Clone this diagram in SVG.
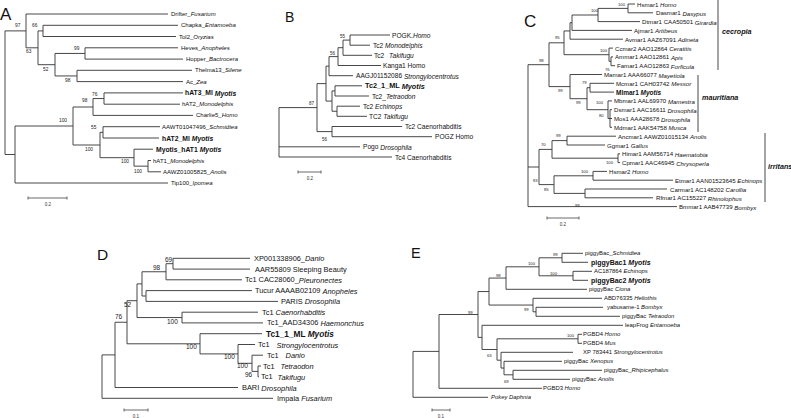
<svg xmlns="http://www.w3.org/2000/svg" width="791" height="418" viewBox="0 0 791 418">
<style>
.br{fill:none;stroke:#333;stroke-width:0.9}
.sb{fill:none;stroke:#444;stroke-width:0.8}
text{font-family:"Liberation Sans",Arial,sans-serif;fill:#111}
.lf{dominant-baseline:central}
.i{font-style:italic}
.b{font-weight:bold}
.ttl{font-size:16px}
.fa{font-size:6px}.fab{font-size:6.8px;font-weight:bold}
.fb{font-size:6.6px}.fbb{font-size:7.3px;font-weight:bold}
.fc{font-size:6.1px}.fcb{font-size:6.5px;font-weight:bold}
.fd{font-size:7.4px}.fdb{font-size:8.3px;font-weight:bold}
.fe{font-size:5.9px}.feb{font-size:7px;font-weight:bold}
.bsa{font-size:4.8px;fill:#222}.bsb{font-size:4.5px;fill:#222}.bsc{font-size:4.2px;fill:#222}.bsd{font-size:6.5px;fill:#222}
.sc{font-size:4.5px;fill:#333;text-anchor:middle}
.cl{font-size:7.2px;font-weight:bold;font-style:italic}
</style>

<!-- ============ PANEL A ============ -->
<g id="panelA">
<text class="ttl" x="0" y="20" style="font-size:17px">A</text>
<g id="A-connectors">
<path class="br" d="M5 30.9V154.5 M26 14V47.8 M38 30.9V64.7 M43 25.3V36.5 M55 53.45V75.95 M85 47.8V59.1 M77 70.3V81.6 M15 126V183 M73 107V145 M93 98.55V115.4 M104 92.9V104.2 M100 132.35V157.68 M103 126.7V138 M134 149.2V166.15 M148 160.5V171.8
M5 30.9H26 M5 154.5H15 M26 14H168 M26 47.8H38 M38 30.9H43 M38 64.7H55 M43 25.3H178 M43 36.5H176 M55 53.45H85 M55 75.95H77 M85 47.8H178 M85 59.1H183 M77 70.3H192 M77 81.6H183 M15 126H73 M15 183H168 M73 107H93 M73 145H100 M93 98.55H104 M93 115.4H193 M104 92.9H183 M104 104.2H180 M100 132.35H103 M100 157.68H134 M103 126.7H160 M103 138H159 M134 149.2H153 M134 166.15H148 M148 160.5H151 M148 171.8H161"/>
<path class="sb" d="M28 198H67 M28 196.5V199.5 M67 196.5V199.5"/>
</g>
<g id="A-support">
<text class="bsa" x="15" y="27">97</text><text class="bsa" x="32" y="27">66</text><text class="bsa" x="26" y="53">63</text><text class="bsa" x="74" y="50">99</text><text class="bsa" x="43" y="71">52</text><text class="bsa" x="65" y="82">98</text><text class="bsa" x="92" y="96">76</text><text class="bsa" x="82" y="102">98</text><text class="bsa" x="59" y="122">100</text><text class="bsa" x="91" y="129">55</text><text class="bsa" x="85" y="151">100</text><text class="bsa" x="121" y="163">100</text><text class="bsa" x="134" y="173">100</text>
<text class="sc" x="48" y="206">0.2</text>
</g>
<g id="a1"><text class="lf fa" x="171" y="14">Drifter_<tspan class="i">Fusarium</tspan></text></g>
<g id="a2"><text class="lf fa" x="181" y="25.3">Chapka_<tspan class="i">Entamoeba</tspan></text></g>
<g id="a3"><text class="lf fa" x="179" y="36.5">Tol2_<tspan class="i">Oryzias</tspan></text></g>
<g id="a4"><text class="lf fa" x="181" y="47.8">Heves_<tspan class="i">Anopheles</tspan></text></g>
<g id="a5"><text class="lf fa" x="186" y="59.1">Hopper_<tspan class="i">Bactrocera</tspan></text></g>
<g id="a6"><text class="lf fa" x="195" y="70.3">Thelma13_<tspan class="i">Silene</tspan></text></g>
<g id="a7"><text class="lf fa" x="186" y="81.6">Ac_<tspan class="i">Zea</tspan></text></g>
<g id="a8"><text class="lf fab" x="185" y="92.9">hAT3_Ml <tspan class="i">Myotis</tspan></text></g>
<g id="a9"><text class="lf fa" x="182" y="104.2">hAT2_<tspan class="i">Monodelphis</tspan></text></g>
<g id="a10"><text class="lf fa" x="196" y="115.4">Charlie5_<tspan class="i">Homo</tspan></text></g>
<g id="a11"><text class="lf fa" x="162" y="126.7">AAWT01047496_<tspan class="i">Schmidtea</tspan></text></g>
<g id="a12"><text class="lf fab" x="162" y="138">hAT2_Ml <tspan class="i">Myotis</tspan></text></g>
<g id="a13"><text class="lf fab" x="156" y="149.2">Myotis_hAT1 <tspan class="i">Myotis</tspan></text></g>
<g id="a14"><text class="lf fa" x="153" y="160.5">hAT1_<tspan class="i">Monodelphis</tspan></text></g>
<g id="a15"><text class="lf fa" x="163" y="171.8">AAWZ01005825_<tspan class="i">Anolis</tspan></text></g>
<g id="a16"><text class="lf fa" x="171" y="183">Tip100_<tspan class="i">Ipomea</tspan></text></g>
</g>

<!-- ============ PANEL B ============ -->
<g id="panelB">
<text class="ttl" x="285" y="22" style="font-size:14px">B</text>
<g id="B-connectors">
<path class="br" d="M279 107.6V157 M317 83.6V131.6 M326 66.15V101.08 M329 56.6V75.7 M338 47.7V65.5 M343 40.1V55.3 M350 35V45.2 M332 90.9V111.25 M335 85.8V96 M337 106.2V116.3 M332 126.5V136.7
M279 107.6H317 M279 146.8H360 M279 157H392 M317 83.6H326 M317 131.6H332 M326 66.15H329 M326 101.08H332 M329 56.6H338 M329 75.7H353 M338 47.7H343 M338 65.5H381 M343 40.1H350 M343 55.3H372 M350 35H390 M350 45.2H370 M332 90.9H335 M332 111.25H337 M335 85.8H362 M335 96H369 M337 106.2H360 M337 116.3H367 M332 126.5H402 M332 136.7H432"/>
<path class="sb" d="M298 172H321 M298 170.5V173.5 M321 170.5V173.5"/>
</g>
<g id="B-support">
<text class="bsb" x="340" y="38">55</text><text class="bsb" x="330" y="55">56</text><text class="bsb" x="309" y="105">87</text><text class="bsb" x="322" y="141">56</text>
<text class="sc" x="310" y="180">0.2</text>
</g>
<g id="b1"><text class="lf fb" x="392" y="35">POGK.<tspan class="i">Homo</tspan></text></g>
<g id="b2"><text class="lf fb" x="373" y="45.2">Tc2 <tspan class="i">Monodelphis</tspan></text></g>
<g id="b3"><text class="lf fb" x="374" y="55.3">Tc2 <tspan class="i" dx="3">Takifugu</tspan></text></g>
<g id="b4"><text class="lf fb" x="383" y="65.5">Kanga1 Homo</text></g>
<g id="b5"><text class="lf fb" x="356" y="75.7">AAGJ01152086 <tspan class="i">Strongylocentrotus</tspan></text></g>
<g id="b6"><text class="lf fbb" x="365" y="85.8">Tc2_1_ML <tspan class="i">Myotis</tspan></text></g>
<g id="b7"><text class="lf fb" x="372" y="96">Tc2_<tspan class="i">Tetraodon</tspan></text></g>
<g id="b8"><text class="lf fb" x="363" y="106.2">Tc2 <tspan class="i">Echinops</tspan></text></g>
<g id="b9"><text class="lf fb" x="369" y="116.3">TC2 <tspan class="i">Takifugu</tspan></text></g>
<g id="b10"><text class="lf fb" x="405" y="126.5">Tc2 Caenorhabditis</text></g>
<g id="b11"><text class="lf fb" x="435" y="136.7">POGZ Homo</text></g>
<g id="b12"><text class="lf fb" x="363" y="146.8">Pogo <tspan class="i">Drosophila</tspan></text></g>
<g id="b13"><text class="lf fb" x="395" y="157">Tc4 Caenorhabditis</text></g>
</g>

<!-- ============ PANEL C ============ -->
<g id="panelC">
<text class="ttl" x="524" y="27" style="font-size:17px">C</text>
<g id="C-connectors">
<path class="br" d="M528 64.7V206.6 M549 42.8V86.6 M564 30.95V54.7 M570 22.7V39.2 M572 15V30.4 M598 8.4V21.6 M628 4V12.8 M609 48.1V61.3 M611 56.9V65.7 M570 74.5V98.7 M587 87.7V109.7 M590 83.3V92.1 M608 100.9V118.5 M610 109.7V127.3 M539 149.4V184.6 M552 140.6V158.2 M567 136.2V145 M618 153.8V162.6 M554 175.8V193.4 M593 171.4V180.2 M585 189V197.8
M528 64.7H549 M528 167H539 M528 206.6H677 M549 42.8H564 M549 86.6H570 M564 30.95H570 M564 54.7H609 M570 22.7H572 M570 39.2H623 M572 15H598 M572 30.4H632 M598 8.4H628 M598 21.6H640 M628 4H635 M628 12.8H653 M609 48.1H613 M609 61.3H611 M611 56.9H613 M611 65.7H615 M570 74.5H602 M570 98.7H587 M587 87.7H590 M587 109.7H608 M590 83.3H614 M590 92.1H614 M608 100.9H612 M608 118.5H610 M610 109.7H612 M610 118.5H612 M610 127.3H612 M539 149.4H552 M539 184.6H554 M552 140.6H567 M552 158.2H618 M567 136.2H616 M567 145H605 M618 153.8H620 M618 162.6H620 M554 175.8H593 M554 193.4H585 M593 171.4H607 M593 180.2H673 M585 189H667 M585 197.8H653"/>
<path class="sb" d="M547 218H579 M547 216.5V219.5 M579 216.5V219.5"/>
</g>
<g id="C-clades">
<path class="br" d="M718 0V70 M698 75V132 M765 133V202"/>
<text class="cl" x="722" y="34">cecropia</text>
<text class="cl" x="702" y="100">mauritiana</text>
<text class="cl" x="768" y="169">irritans</text>
</g>
<g id="C-support">
<text class="bsc" x="618" y="6">100</text><text class="bsc" x="591" y="12">100</text><text class="bsc" x="555" y="39">95</text><text class="bsc" x="600" y="52">100</text><text class="bsc" x="605" y="70.6">76</text><text class="bsc" x="539" y="62">98</text><text class="bsc" x="582" y="84">79</text><text class="bsc" x="558" y="92">99</text><text class="bsc" x="576" y="104">99</text><text class="bsc" x="596" y="104">100</text><text class="bsc" x="599" y="117">80</text><text class="bsc" x="556" y="137">99</text><text class="bsc" x="541" y="146">70</text><text class="bsc" x="606" y="164">100</text><text class="bsc" x="581" y="173">100</text><text class="bsc" x="533" y="182">83</text><text class="bsc" x="544" y="191">85</text><text class="bsc" x="575" y="207">99</text>
<text class="sc" x="563" y="226">0.2</text>
</g>
<g id="c1"><text class="lf fc" x="637" y="4">Hsmar1 <tspan class="i">Homo</tspan></text></g>
<g id="c2"><text class="lf fc" x="656" y="12.8">Dasmar1 <tspan class="i">Dasypus</tspan></text></g>
<g id="c3"><text class="lf fc" x="642" y="21.6">Dtmar1 CAA50501 <tspan class="i">Girardia</tspan></text></g>
<g id="c4"><text class="lf fc" x="634" y="30.4">Ajmar1 <tspan class="i">Artibeus</tspan></text></g>
<g id="c5"><text class="lf fc" x="625" y="39.2">Avmar1 AAZ67091 <tspan class="i">Adineta</tspan></text></g>
<g id="c6"><text class="lf fc" x="615" y="48.1">Ccmar2 AAO12864 <tspan class="i">Ceratitis</tspan></text></g>
<g id="c7"><text class="lf fc" x="615" y="56.9">Ammar1 AAO12861 <tspan class="i">Apis</tspan></text></g>
<g id="c8"><text class="lf fc" x="617" y="65.7">Famar1 AAO12863 <tspan class="i">Forficula</tspan></text></g>
<g id="c9"><text class="lf fc" x="604" y="74.5">Mamar1 AAA66077 <tspan class="i">Mayetiola</tspan></text></g>
<g id="c10"><text class="lf fc" x="616" y="83.3">Mcmar1 CAH03742 <tspan class="i">Messor</tspan></text></g>
<g id="c11"><text class="lf fcb" x="616" y="92.1">Mlmar1 <tspan class="i">Myotis</tspan></text></g>
<g id="c12"><text class="lf fc" x="614" y="100.9">Mbmar1 AAL69970 <tspan class="i">Mamestra</tspan></text></g>
<g id="c13"><text class="lf fc" x="614" y="109.7">Dsmar1 AAC16611 <tspan class="i">Drosophila</tspan></text></g>
<g id="c14"><text class="lf fc" x="614" y="118.5">Mos1 AAA28678 <tspan class="i">Drosophila</tspan></text></g>
<g id="c15"><text class="lf fc" x="614" y="127.3">Mdmar1 AAK54758 <tspan class="i">Musca</tspan></text></g>
<g id="c16"><text class="lf fc" x="618" y="136.2">Ancmar1 AAWZ01015134 <tspan class="i">Anolis</tspan></text></g>
<g id="c17"><text class="lf fc" x="607" y="145">Ggmar1 <tspan class="i">Gallus</tspan></text></g>
<g id="c18"><text class="lf fc" x="622" y="153.8">Himar1 AAM56714 <tspan class="i">Haematobia</tspan></text></g>
<g id="c19"><text class="lf fc" x="622" y="162.6">Cpmar1 AAC46945 <tspan class="i">Chrysoperla</tspan></text></g>
<g id="c20"><text class="lf fc" x="609" y="171.4">Hsmar2 <tspan class="i">Homo</tspan></text></g>
<g id="c21"><text class="lf fc" x="675" y="180.2">Etmar1 AAN01523645 <tspan class="i">Echinops</tspan></text></g>
<g id="c22"><text class="lf fc" x="670" y="189">Carmar1 AC148202 <tspan class="i">Carollia</tspan></text></g>
<g id="c23"><text class="lf fc" x="656" y="197.8">Rfmar1 AC155227 <tspan class="i">Rhinolophus</tspan></text></g>
<g id="c24"><text class="lf fc" x="679" y="206.6">Bmmar1 AAB47739 <tspan class="i">Bombyx</tspan></text></g>
</g>

<!-- ============ PANEL D ============ -->
<g id="panelD">
<text class="ttl" x="97" y="260" style="font-size:15.5px">D</text>
<g id="D-connectors">
<path class="br" d="M102 354.9V398.3 M115 322.25V387.5 M127 300.7V343.8 M137 283.9V317.55 M142 271.75V296 M166 263.7V279.8 M173 258.3V269.1 M146 290.6V301.4 M182 312.2V322.9 M200 333.7V353.9 M238 344.5V363.3 M252 355.2V371.4 M258 366V376.8
M102 354.9H115 M102 398.3H273 M115 322.25H127 M115 387.5H238 M127 300.7H137 M127 343.8H200 M137 283.9H142 M137 317.55H182 M142 271.75H166 M142 296H146 M166 263.7H173 M166 279.8H242 M173 258.3H250 M173 269.1H250 M146 290.6H252 M146 301.4H278 M182 312.2H258 M182 322.9H263 M200 333.7H262 M200 353.9H238 M238 344.5H255 M238 363.3H252 M252 355.2H263 M252 371.4H258 M258 366H261 M258 376.8H259"/>
<path class="sb" d="M124 410H148 M124 408.5V411.5 M148 408.5V411.5"/>
</g>
<g id="D-support">
<text class="bsd" x="165" y="262">69</text><text class="bsd" x="153" y="270">98</text><text class="bsd" x="124" y="307">52</text><text class="bsd" x="115" y="319">76</text><text class="bsd" x="167" y="324">100</text><text class="bsd" x="186" y="349">100</text><text class="bsd" x="224" y="359">100</text><text class="bsd" x="237" y="368">100</text><text class="bsd" x="245" y="377">96</text>
<text class="sc" x="136" y="418">0.1</text>
</g>
<g id="d1"><text class="lf fd" x="254" y="258.3">XP001338906_<tspan class="i">Danio</tspan></text></g>
<g id="d2"><text class="lf fd" x="255" y="269.1">AAR55809  Sleeping Beauty</text></g>
<g id="d3"><text class="lf fd" x="245" y="279.8">Tc1 CAC28060_<tspan class="i">Pleuronectes</tspan></text></g>
<g id="d4"><text class="lf fd" x="255" y="290.6">Tucur AAAAB02109 <tspan class="i">Anopheles</tspan></text></g>
<g id="d5"><text class="lf fd" x="281" y="301.4">PARIS <tspan class="i">Drosophila</tspan></text></g>
<g id="d6"><text class="lf fd" x="262" y="312.2">Tc1 <tspan class="i">Caenorhabditis</tspan></text></g>
<g id="d7"><text class="lf fd" x="267" y="322.9">Tc1_AAD34306 <tspan class="i">Haemonchus</tspan></text></g>
<g id="d8"><text class="lf fdb" x="266" y="333.7">Tc1_1_ML <tspan class="i">Myotis</tspan></text></g>
<g id="d9"><text class="lf fd" x="258" y="344.5">Tc1 <tspan class="i" dx="5">Strongylocentrotus</tspan></text></g>
<g id="d10"><text class="lf fd" x="267" y="355.2">Tc1 <tspan class="i" dx="5">Danio</tspan></text></g>
<g id="d11"><text class="lf fd" x="263" y="366">Tc1 <tspan class="i" dx="4">Tetraodon</tspan></text></g>
<g id="d12"><text class="lf fd" x="261" y="376.8">Tc1 <tspan class="i" dx="3">Takifugu</tspan></text></g>
<g id="d13"><text class="lf fd" x="242" y="387.5">BARI <tspan class="i">Drosophila</tspan></text></g>
<g id="d14"><text class="lf fd" x="277" y="398.3">Impala <tspan class="i">Fusarium</tspan></text></g>
</g>

<!-- ============ PANEL E ============ -->
<g id="panelE">
<text class="ttl" x="411" y="258" style="font-size:14.5px">E</text>
<g id="E-connectors">
<path class="br" d="M413 351.4V397.3 M439 314.5V388.3 M478 291.55V337.4 M489 278.05V305.05 M506 266.8V289.3 M539 257.8V275.8 M562 253.3V262.3 M573 271.3V280.3 M533 298.3V311.8 M536 307.3V316.3 M482 325.3V349.5 M497 338.8V360.2 M578 334.3V343.3 M501 352.3V368.05 M504 361.3V374.8 M513 370.3V379.3
M413 351.4H439 M413 397.3H488 M439 314.5H478 M439 388.3H542 M478 291.55H489 M478 337.4H482 M489 278.05H506 M489 305.05H533 M506 266.8H539 M506 289.3H587 M539 257.8H562 M539 275.8H573 M562 253.3H583 M562 262.3H588 M573 271.3H592 M573 280.3H588 M533 298.3H602 M533 311.8H536 M536 307.3H603 M536 316.3H620 M482 325.3H623 M482 349.5H497 M497 338.8H578 M497 360.2H501 M578 334.3H582 M578 343.3H582 M501 352.3H573 M501 368.05H504 M504 361.3H562 M504 374.8H513 M513 370.3H602 M513 379.3H570"/>
<path class="sb" d="M432 410H450 M432 408.5V411.5 M450 408.5V411.5"/>
</g>
<g id="E-support">
<text class="bsc" x="553" y="256">99</text><text class="bsc" x="528" y="265">100</text><text class="bsc" x="550" y="275">100</text><text class="bsc" x="496" y="277">98</text><text class="bsc" x="524" y="311">99</text><text class="bsc" x="468" y="314">99</text><text class="bsc" x="567" y="337">100</text><text class="bsc" x="487" y="357">63</text><text class="bsc" x="504" y="383">69</text>
<text class="sc" x="441" y="418">0.1</text>
</g>
<g id="e1"><text class="lf fe" x="585" y="253.3">piggyBac_<tspan class="i">Schmidtea</tspan></text></g>
<g id="e2"><text class="lf feb" x="591" y="262.3">piggyBac1 <tspan class="i">Myotis</tspan></text></g>
<g id="e3"><text class="lf fe" x="594" y="271.3">AC187864 <tspan class="i">Echinops</tspan></text></g>
<g id="e4"><text class="lf feb" x="591" y="280.3">piggyBac2 <tspan class="i">Myotis</tspan></text></g>
<g id="e5"><text class="lf fe" x="589" y="289.3">piggyBac <tspan class="i">Ciona</tspan></text></g>
<g id="e6"><text class="lf fe" x="604" y="298.3">ABD76335 <tspan class="i">Heliothis</tspan></text></g>
<g id="e7"><text class="lf fe" x="607" y="307.3">yabusame-1 <tspan class="i">Bombyx</tspan></text></g>
<g id="e8"><text class="lf fe" x="622" y="316.3">piggyBac <tspan class="i">Tetraodon</tspan></text></g>
<g id="e9"><text class="lf fe" x="625" y="325.3">leapFrog <tspan class="i">Entamoeba</tspan></text></g>
<g id="e10"><text class="lf fe" x="583" y="334.3">PGBD4 <tspan class="i">Homo</tspan></text></g>
<g id="e11"><text class="lf fe" x="583" y="343.3">PGBD4 <tspan class="i">Mus</tspan></text></g>
<g id="e12"><text class="lf fe" x="583" y="352.3">XP 783441 <tspan class="i">Strongylocentrotus</tspan></text></g>
<g id="e13"><text class="lf fe" x="564" y="361.3">piggyBac <tspan class="i">Xenopus</tspan></text></g>
<g id="e14"><text class="lf fe" x="604" y="370.3">piggyBac_<tspan class="i">Rhipicephalus</tspan></text></g>
<g id="e15"><text class="lf fe" x="572" y="379.3">piggyBac <tspan class="i">Anolis</tspan></text></g>
<g id="e16"><text class="lf fe" x="543" y="388.3">PGBD3 <tspan class="i">Homo</tspan></text></g>
<g id="e17"><text class="lf fe i" x="491" y="397.3">Pokey Daphnia</text></g>
</g>
</svg>
